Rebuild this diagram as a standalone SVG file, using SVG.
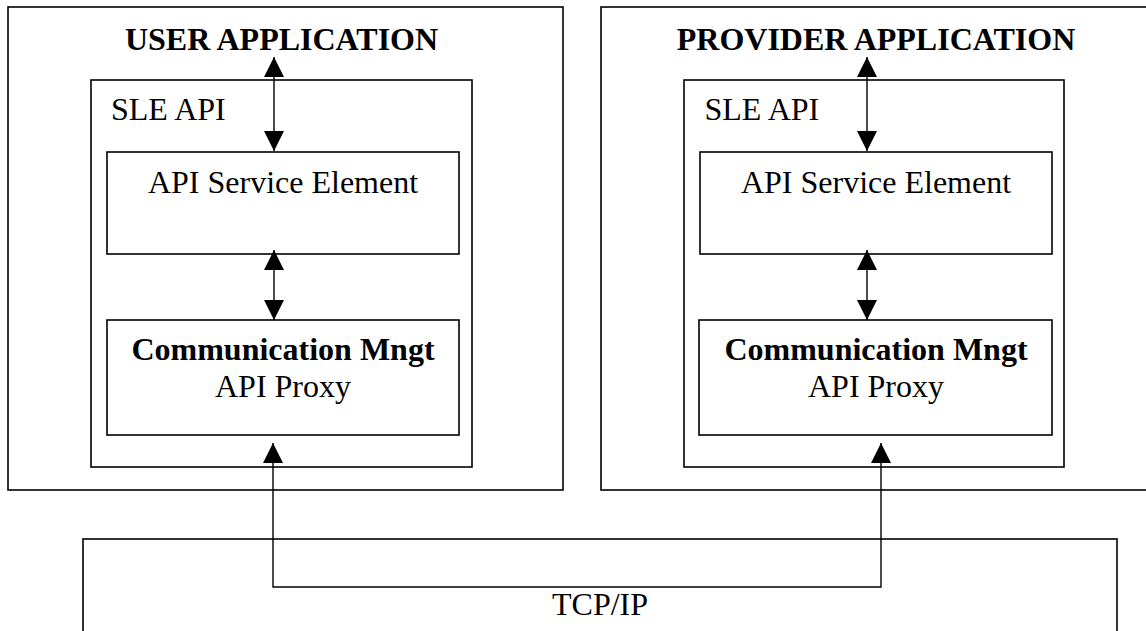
<svg xmlns="http://www.w3.org/2000/svg" width="1146" height="631" viewBox="0 0 1146 631">
  <style>
    .box { fill: none; stroke: #000; stroke-width: 1.6; }
    .conn { fill: none; stroke: #000; stroke-width: 1.4; }
    .t { font-family: "Liberation Serif", "Times New Roman", serif; font-size: 32px; fill: #000; }
    .b { font-weight: bold; }
    .m { text-anchor: middle; }
  </style>
  <defs>
    <marker id="ah" viewBox="0 0 20 20" refX="20" refY="10" markerUnits="userSpaceOnUse" markerWidth="21" markerHeight="20" orient="auto-start-reverse">
      <path d="M0,0 L20,10 L0,20 z" fill="#000"/>
    </marker>
  </defs>
  <rect width="1146" height="631" fill="#fff"/>

  <g id="user-app">
    <rect class="box" x="8" y="7" width="555" height="483"/>
    <text class="t b m" x="281.5" y="50">USER APPLICATION</text>
  </g>
  <g id="user-sle-api">
    <rect class="box" x="91" y="80" width="381" height="387"/>
    <text class="t" x="111" y="120">SLE API</text>
  </g>
  <g id="user-service-element">
    <rect class="box" x="107" y="152" width="352" height="102"/>
    <text class="t m" x="283" y="193">API Service Element</text>
  </g>
  <g id="user-comm-mngt">
    <rect class="box" x="107" y="320" width="352" height="115"/>
    <text class="t b m" x="283" y="360">Communication Mngt</text>
    <text class="t m" x="283" y="397">API Proxy</text>
  </g>

  <g id="provider-app">
    <rect class="box" x="601" y="7" width="560" height="483"/>
    <text class="t b m" x="876" y="50">PROVIDER APPLICATION</text>
  </g>
  <g id="provider-sle-api">
    <rect class="box" x="684" y="80" width="380" height="387"/>
    <text class="t" x="704.5" y="120">SLE API</text>
  </g>
  <g id="provider-service-element">
    <rect class="box" x="700" y="152" width="352" height="102"/>
    <text class="t m" x="876" y="193">API Service Element</text>
  </g>
  <g id="provider-comm-mngt">
    <rect class="box" x="699" y="320" width="353" height="115"/>
    <text class="t b m" x="876" y="360">Communication Mngt</text>
    <text class="t m" x="876" y="397">API Proxy</text>
  </g>

  <g id="tcpip">
    <rect class="box" x="83" y="539" width="1034" height="120"/>
    <text class="t m" x="600" y="615">TCP/IP</text>
  </g>

  <g id="connectors">
    <line class="conn" x1="274" y1="57" x2="274" y2="151" marker-start="url(#ah)" marker-end="url(#ah)"/>
    <line class="conn" x1="274" y1="250" x2="274" y2="320" marker-start="url(#ah)" marker-end="url(#ah)"/>
    <line class="conn" x1="867" y1="57" x2="867" y2="151" marker-start="url(#ah)" marker-end="url(#ah)"/>
    <line class="conn" x1="867" y1="250" x2="867" y2="320" marker-start="url(#ah)" marker-end="url(#ah)"/>
    <path class="conn" d="M273,443 L273,587 L881,587 L881,443" marker-start="url(#ah)" marker-end="url(#ah)"/>
  </g>
</svg>
